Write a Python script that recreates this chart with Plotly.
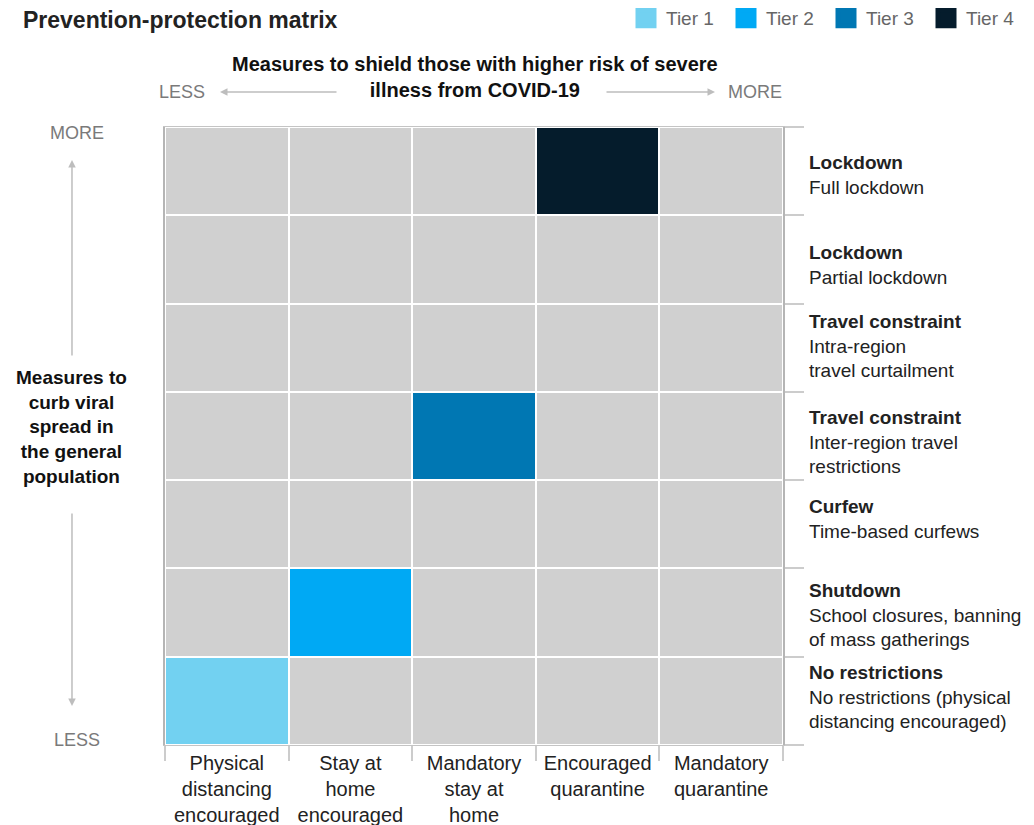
import plotly.graph_objects as go

# ---- data ----
columns = ["Physical<br>distancing<br>encouraged", "Stay at<br>home<br>encouraged",
           "Mandatory<br>stay at<br>home", "Encouraged<br>quarantine", "Mandatory<br>quarantine"]
row_heads = ["No restrictions", "Shutdown", "Curfew", "Travel constraint",
             "Travel constraint", "Lockdown", "Lockdown"]
row_descs = ["No restrictions (physical<br>distancing encouraged)",
             "School closures, banning<br>of mass gatherings",
             "Time-based curfews",
             "Inter-region travel<br>restrictions",
             "Intra-region<br>travel curtailment",
             "Partial lockdown",
             "Full lockdown"]
tiers = ["Tier 1", "Tier 2", "Tier 3", "Tier 4"]
tier_colors = ["#72d1f1", "#00a9f4", "#0077b3", "#051c2c"]
tier_col = [0, 1, 2, 3]   # column index of each tier cell
tier_row = [0, 1, 3, 6]   # row index (0 = bottom) of each tier cell
base_color = "#d0d0d0"
title_text = "Prevention-protection matrix"

# layout-only vertical nudges of the right-hand labels (px, + = up)
label_yshift = [4, -2, 5, -6, 2, -6, -4]

n_cols = len(columns)
n_rows = len(row_heads)
z = [[0 for _ in range(n_cols)] for _ in range(n_rows)]
for k in range(len(tiers)):
    z[tier_row[k]][tier_col[k]] = k + 1

colorscale = [[0, base_color], [0.125, base_color]]
for k, c in enumerate(tier_colors):
    lo = 0.125 + 0.25 * k
    hi = min(1.0, lo + 0.25)
    colorscale += [[lo, c], [hi, c]]

FONT = "Liberation Sans, Arial, sans-serif"

fig = go.Figure()
fig.add_trace(go.Heatmap(
    z=z, x=list(range(n_cols)), y=list(range(n_rows)),
    zmin=0, zmax=4, colorscale=colorscale, showscale=False,
    xgap=2, ygap=2, hoverinfo="skip", showlegend=False))

for k, t in enumerate(tiers):
    fig.add_trace(go.Scatter(
        x=[None], y=[None], mode="markers", name=t,
        marker=dict(symbol="square", size=22, color=tier_colors[k],
                    line=dict(width=5, color=tier_colors[k])),
        showlegend=True))

bounds_x = [i - 0.5 for i in range(n_cols + 1)]
bounds_y = [i - 0.5 for i in range(n_rows + 1)]

fig.update_xaxes(
    range=[-0.5, n_cols - 0.5], tickvals=list(range(n_cols)), ticktext=columns,
    ticks="", showgrid=False, zeroline=False, fixedrange=True,
    tickfont=dict(family=FONT, size=20, color="#222222"),
    showline=True, mirror=True, linecolor="#c4c4c4", linewidth=1,
    minor=dict(tickvals=bounds_x, ticks="outside", ticklen=15,
               tickcolor="#cccccc", tickwidth=2, showgrid=False))
fig.update_yaxes(
    range=[-0.5, n_rows - 0.5], side="right", showticklabels=False,
    ticks="", showgrid=False, zeroline=False, fixedrange=True,
    showline=True, mirror=True, linecolor="#b5b5b5", linewidth=2,
    minor=dict(tickvals=bounds_y, ticks="outside", ticklen=19,
               tickcolor="#cccccc", tickwidth=2, showgrid=False))

ann = []
# right row labels
for i in range(n_rows):
    ann.append(dict(xref="paper", yref="y", x=1, y=i, xanchor="left", yanchor="middle",
                    xshift=24, yshift=label_yshift[i], align="left", showarrow=False,
                    text=f"<b>{row_heads[i]}</b><br>{row_descs[i]}",
                    font=dict(family=FONT, size=19, color="#222222")))

gray = "#7a7a7a"
arrow_c = "#bdbdbd"
# top header
ann.append(dict(xref="paper", yref="paper", x=0.5016, y=1.081, xanchor="center", yanchor="middle",
                showarrow=False, align="center",
                text="<b>Measures to shield those with higher risk of severe<br>illness from COVID-19</b>",
                font=dict(family=FONT, size=20, color="#111111")))
ann.append(dict(xref="paper", yref="paper", x=0.0275, y=1.0566, xanchor="center", yanchor="middle",
                showarrow=False, text="LESS", font=dict(family=FONT, size=18, color=gray)))
ann.append(dict(xref="paper", yref="paper", x=0.9547, y=1.0566, xanchor="center", yanchor="middle",
                showarrow=False, text="MORE", font=dict(family=FONT, size=18, color=gray)))
ann.append(dict(xref="paper", yref="paper", x=(220 - 165) / 618, y=1.0566, text="",
                showarrow=True, ax=118, ay=0, arrowhead=2, arrowsize=1, arrowwidth=1.5,
                arrowcolor=arrow_c))
ann.append(dict(xref="paper", yref="paper", x=(715 - 165) / 618, y=1.0566, text="",
                showarrow=True, ax=-110, ay=0, arrowhead=2, arrowsize=1, arrowwidth=1.5,
                arrowcolor=arrow_c))
# left side
ann.append(dict(xref="paper", yref="paper", x=-0.1505, y=0.5146, xanchor="center", yanchor="middle",
                showarrow=False, align="center",
                text="<b>Measures to<br>curb viral<br>spread in<br>the general<br>population</b>",
                font=dict(family=FONT, size=19, color="#111111")))
ann.append(dict(xref="paper", yref="paper", x=-0.1424, y=0.990, xanchor="center", yanchor="middle",
                showarrow=False, text="MORE", font=dict(family=FONT, size=18, color=gray)))
ann.append(dict(xref="paper", yref="paper", x=-0.1424, y=0.0081, xanchor="center", yanchor="middle",
                showarrow=False, text="LESS", font=dict(family=FONT, size=18, color=gray)))
ann.append(dict(xref="paper", yref="paper", x=-0.1505, y=(745 - 160) / 618, text="",
                showarrow=True, ax=0, ay=197, arrowhead=2, arrowsize=1, arrowwidth=1.5,
                arrowcolor=arrow_c))
ann.append(dict(xref="paper", yref="paper", x=-0.1505, y=(745 - 706) / 618, text="",
                showarrow=True, ax=0, ay=-194, arrowhead=2, arrowsize=1, arrowwidth=1.5,
                arrowcolor=arrow_c))
# title (full text, kept inside the page)
ann.append(dict(xref="paper", yref="paper", x=0, y=(745 - 20) / 618, xanchor="left", yanchor="middle",
                xshift=-144, showarrow=False, text=f"<b>{title_text}</b>",
                font=dict(family=FONT, size=23, color="#222222")))

# figure is placed 8px in from the page's top-left corner (page margin)
fig.update_layout(
    width=1026, height=817,
    margin=dict(l=157, r=251, t=119, b=80, autoexpand=False),
    paper_bgcolor="white", plot_bgcolor="white",
    annotations=ann,
    showlegend=True,
    legend=dict(orientation="h", x=(626 - 165) / 618, xanchor="left",
                y=(745 + 1) / 618, yanchor="top", entrywidth=55,
                font=dict(family=FONT, size=19, color="#666666"),
                itemclick=False, itemdoubleclick=False, tracegroupgap=0),
)

fig.write_html("out.html")
